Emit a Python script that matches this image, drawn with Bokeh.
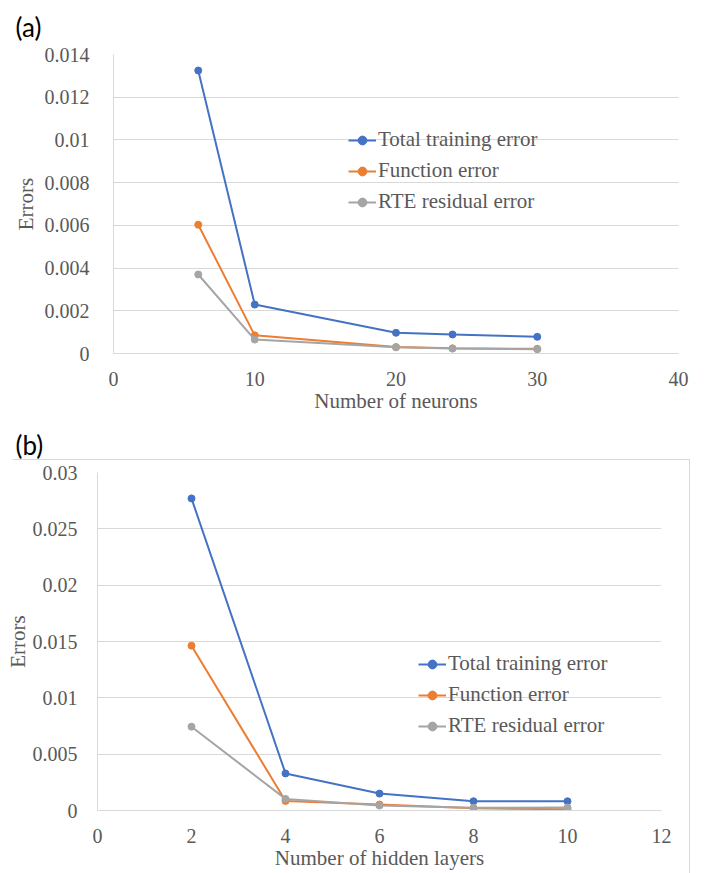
from bokeh.plotting import figure
from bokeh.layouts import column
from bokeh.models import FixedTicker, Legend, LegendItem, InlineStyleSheet
from bokeh.embed import file_html
from bokeh.resources import INLINE

# (a) errors versus number of neurons
neurons = [6, 10, 20, 24, 30]
total_a = [0.01325, 0.00229, 0.00097, 0.00089, 0.00078]
func_a = [0.00603, 0.00085, 0.00030, 0.00024, 0.00022]
rte_a = [0.00370, 0.00065, 0.00029, 0.00023, 0.00020]

xticks_a = [0, 10, 20, 30, 40]
yticks_a = [0, 0.002, 0.004, 0.006, 0.008, 0.01, 0.012, 0.014]
ylabels_a = ["0", "0.002", "0.004", "0.006", "0.008", "0.01", "0.012", "0.014"]

# (b) errors versus number of hidden layers
layers = [2, 4, 6, 8, 10]
total_b = [0.0277, 0.00329, 0.00150, 0.00082, 0.00082]
func_b = [0.01463, 0.00085, 0.00053, 0.00020, 0.00010]
rte_b = [0.00744, 0.00103, 0.00044, 0.00024, 0.00026]

xticks_b = [0, 2, 4, 6, 8, 10, 12]
yticks_b = [0, 0.005, 0.01, 0.015, 0.02, 0.025, 0.03]
ylabels_b = ["0", "0.005", "0.01", "0.015", "0.02", "0.025", "0.03"]

series_names = ["Total training error", "Function error", "RTE residual error"]
colors = ["#4472C4", "#ED7D31", "#A5A5A5"]

SERIF = "Liberation Serif"
TXT = "#595959"
GRID = "#d9d9d9"
FS_TICK = "20px"
FS_TEXT = "21px"


def make_panel(tag, tag_offset, tag_standoff, xs, ys_list, xr, yr, xticks,
               yticks, ylabels, xlabel, w, h, bl, br, bt, bb, legend_xy,
               ylab_standoffs, sheets=()):
    p = figure(width=w, height=h, x_range=xr, y_range=yr,
               output_backend="svg", toolbar_location=None,
               min_border_left=bl, min_border_right=br,
               min_border_top=bt, min_border_bottom=bb,
               frame_align=False, stylesheets=list(sheets))
    p.outline_line_color = None
    p.background_fill_color = "white"
    p.border_fill_color = "white"

    # panel tag, e.g. "(a)", anchored to the top of the figure
    p.title.text = tag
    p.title.align = "left"
    p.title.vertical_align = "top"
    p.title.offset = tag_offset
    p.title.text_font = "Lato"
    p.title.text_font_size = "26px"
    p.title.text_font_style = "normal"
    p.title.text_color = "black"
    p.title.standoff = tag_standoff

    p.xgrid.grid_line_color = None
    p.ygrid.grid_line_color = GRID
    p.ygrid.grid_line_width = 1

    p.xaxis.ticker = FixedTicker(ticks=xticks)
    p.yaxis.ticker = FixedTicker(ticks=yticks)
    p.yaxis.major_label_overrides = {t: s for t, s in zip(yticks, ylabels)}

    for ax in (p.xaxis[0], p.yaxis[0]):
        ax.axis_line_color = GRID
        ax.major_tick_line_color = None
        ax.minor_tick_line_color = None
        ax.major_label_text_font = SERIF
        ax.major_label_text_font_size = FS_TICK
        ax.major_label_text_color = TXT
        ax.axis_label_text_font = SERIF
        ax.axis_label_text_font_size = FS_TEXT
        ax.axis_label_text_color = TXT
        ax.axis_label_text_font_style = "normal"

    p.xaxis.axis_label = xlabel
    p.xaxis.major_label_standoff = 12
    p.xaxis.axis_label_standoff = 0
    p.yaxis.axis_label = "Errors"
    p.yaxis.major_label_standoff = ylab_standoffs[0]
    p.yaxis.axis_label_standoff = ylab_standoffs[1]

    items = []
    for name, ys, c in zip(series_names, ys_list, colors):
        r1 = p.line(xs, ys, line_color=c, line_width=2)
        r2 = p.scatter(xs, ys, size=7, fill_color=c, line_color=c)
        items.append(LegendItem(label=name, renderers=[r1, r2]))

    leg = Legend(items=items, location=legend_xy,
                 background_fill_alpha=0, border_line_color=None,
                 padding=0, margin=0, spacing=6,
                 glyph_width=28, glyph_height=22, label_height=22,
                 label_standoff=2,
                 label_text_font=SERIF, label_text_font_size=FS_TEXT,
                 label_text_color=TXT)
    p.add_layout(leg)
    return p


pa = make_panel("(a)", -98, 19, neurons, [total_a, func_a, rte_a], (0, 40),
                (0, 0.014), xticks_a, yticks_a, ylabels_a, "Number of neurons",
                706, 415, 113, 28, 54, 61, (235, 139), (18, 4))

# thin chart-area border of panel (b): top and right edges
border_b = InlineStyleSheet(css="""
:host { position: relative; }
:host::after {
  content: "";
  position: absolute;
  left: 13px; top: 44px; width: 677px; height: 414px;
  border-top: 1px solid #d9d9d9;
  border-right: 1px solid #d9d9d9;
  pointer-events: none;
}
""")

pb = make_panel("(b)", -82, 19, layers, [total_b, func_b, rte_b], (0, 12),
                (0, 0.03), xticks_b, yticks_b, ylabels_b,
                "Number of hidden layers",
                706, 458, 97, 45, 57, 63, (321, 72), (14, 0), sheets=[border_b])

layout = column(pa, pb, spacing=0)
open("out.html", "w").write(file_html(layout, INLINE))
